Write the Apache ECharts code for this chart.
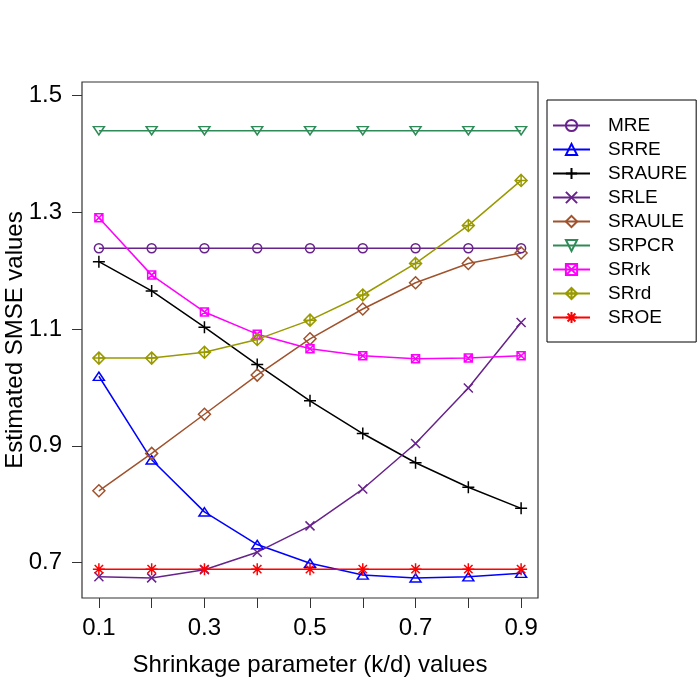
<!DOCTYPE html>
<html lang="en">
<head>
    <meta charset="UTF-8">
    <title>SMSE</title>
    <script src="https://cdn.jsdelivr.net/npm/echarts@6/dist/echarts.min.js"></script>
    <style>
        html, body { margin: 0; padding: 0; background: #fff; }
    </style>
</head>
<body>
<div id="main" style="width: 700px;height:700px;"></div>
<script type="text/javascript">
    // data
    var kValues = [0.1, 0.2, 0.3, 0.4, 0.5, 0.6, 0.7, 0.8, 0.9];
    var xTickValues = [0.1, 0.2, 0.3, 0.4, 0.5, 0.6, 0.7, 0.8, 0.9];
    var xLabelValues = [0.1, 0.3, 0.5, 0.7, 0.9];
    var yTickValues = [0.7, 0.9, 1.1, 1.3, 1.5];

    var MRE    = [1.238, 1.238, 1.238, 1.238, 1.238, 1.238, 1.238, 1.238, 1.238];
    var SRRE   = [1.019, 0.876, 0.787, 0.731, 0.699, 0.679, 0.674, 0.676, 0.682];
    var SRAURE = [1.215, 1.165, 1.103, 1.039, 0.977, 0.921, 0.871, 0.829, 0.793];
    var SRLE   = [0.676, 0.674, 0.688, 0.718, 0.763, 0.826, 0.904, 0.999, 1.111];
    var SRAULE = [0.823, 0.887, 0.954, 1.021, 1.083, 1.134, 1.179, 1.212, 1.230];
    var SRPCR  = [1.439, 1.439, 1.439, 1.439, 1.439, 1.439, 1.439, 1.439, 1.439];
    var SRrk   = [1.290, 1.192, 1.129, 1.091, 1.066, 1.054, 1.049, 1.050, 1.054];
    var SRrd   = [1.050, 1.050, 1.060, 1.082, 1.115, 1.158, 1.212, 1.277, 1.354];
    var SROE   = [0.689, 0.689, 0.689, 0.689, 0.689, 0.689, 0.689, 0.689, 0.689];

    var seriesNames = ['MRE', 'SRRE', 'SRAURE', 'SRLE', 'SRAULE', 'SRPCR', 'SRrk', 'SRrd', 'SROE'];
    var seriesData = [MRE, SRRE, SRAURE, SRLE, SRAULE, SRPCR, SRrk, SRrd, SROE];
    var seriesColors = ['#68228B', '#0000FF', '#000000', '#68228B', '#A0522D', '#2E8B57', '#FF00FF', '#999900', '#FF0000'];

    // R-like plotting symbols (pch 1,2,3,4,5,6,7,9,8)
    var symbols = [
        'path://M0,5A5,5,0,1,1,10,5A5,5,0,1,1,0,5Z',
        'path://M5,0L10,8.66L0,8.66Z',
        'path://M5,0L5,10M0,5L10,5',
        'path://M0,0L10,10M10,0L0,10',
        'path://M5,0L10,5L5,10L0,5Z',
        'path://M0,0L10,0L5,8.66Z',
        'path://M0,0L10,0L10,10L0,10ZM0,0L10,10M10,0L0,10',
        'path://M5,0L10,5L5,10L0,5ZM5,0L5,10M0,5L10,5',
        'path://M5,0L5,10M0,5L10,5M1.5,1.5L8.5,8.5M8.5,1.5L1.5,8.5'
    ];
    var symbolSizes = [9, [11, 9.5], 12, 9, 12, [11, 9.5], 8, 12, 12];

    var font = 'Liberation Sans, Arial, Helvetica, sans-serif';

    var series = [];
    for (var i = 0; i < seriesNames.length; i++) {
        var pts = [];
        for (var j = 0; j < kValues.length; j++) {
            pts.push([kValues[j], seriesData[i][j]]);
        }
        series.push({
            name: seriesNames[i],
            type: 'line',
            data: pts,
            symbol: symbols[i],
            symbolSize: symbolSizes[i],
            symbolKeepAspect: true,
            showAllSymbol: true,
            lineStyle: { color: seriesColors[i], width: 1.5 },
            itemStyle: { color: 'none', borderColor: seriesColors[i], borderWidth: 1.5 },
            emphasis: { disabled: true }
        });
    }

    var myChart = echarts.init(document.getElementById('main'));

    var option = {
        animation: false,
        backgroundColor: '#fff',
        textStyle: { fontFamily: font },
        grid: {
            left: 82, right: 162, top: 82, bottom: 102,
            containLabel: false,
            outerBoundsMode: 'none',
            show: true,
            borderColor: '#333',
            borderWidth: 1.2
        },
        legend: {
            orient: 'vertical',
            left: 547,
            top: 100,
            padding: [16, 9, 15, 5],
            itemWidth: 37,
            itemHeight: 14,
            itemGap: 5,
            borderColor: '#000',
            borderWidth: 1,
            backgroundColor: '#fff',
            textStyle: { fontFamily: font, fontSize: 19, color: '#000', padding: [0, 0, 0, 13] },
            data: seriesNames
        },
        xAxis: {
            type: 'value',
            min: 0.068,
            max: 0.932,
            name: 'Shrinkage parameter (k/d) values',
            nameLocation: 'middle',
            nameGap: 55,
            nameMoveOverlap: false,
            nameTextStyle: { fontFamily: font, fontSize: 24, color: '#000' },
            axisLine: { show: false },
            splitLine: { show: false },
            axisTick: { show: true, inside: false, length: 10, customValues: xTickValues, lineStyle: { color: '#333' } },
            axisLabel: {
                customValues: xLabelValues,
                margin: 18,
                fontSize: 24,
                color: '#000',
                fontFamily: font,
                formatter: function (v) { return v.toFixed(1); }
            }
        },
        yAxis: {
            type: 'value',
            min: 0.6396,
            max: 1.5224,
            name: 'Estimated SMSE values',
            nameLocation: 'middle',
            nameGap: 55,
            nameMoveOverlap: false,
            nameRotate: 90,
            nameTextStyle: { fontFamily: font, fontSize: 24, color: '#000' },
            axisLine: { show: false },
            splitLine: { show: false },
            axisTick: { show: true, inside: false, length: 10, customValues: yTickValues, lineStyle: { color: '#333' } },
            axisLabel: {
                customValues: yTickValues,
                margin: 20,
                fontSize: 24,
                color: '#000',
                fontFamily: font,
                formatter: function (v) { return v.toFixed(1); }
            }
        },
        series: series
    };

    myChart.setOption(option);
</script>
</body>
</html>
